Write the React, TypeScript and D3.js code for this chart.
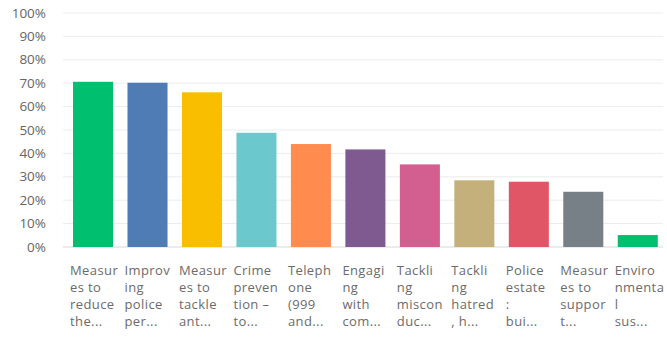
import React from "react";
import * as d3 from "d3";

const categories = [
  "Measures to reduce the...",
  "Improving police per...",
  "Measures to tackle ant...",
  "Crime prevention – to...",
  "Telephone (999 and...",
  "Engaging with com...",
  "Tackling misconduc...",
  "Tackling hatred, h...",
  "Police estate: bui...",
  "Measures to support t...",
  "Environmental sus...",
];
const labelLines = [
  ["Measur", "es to", "reduce", "the..."],
  ["Improv", "ing", "police", "per..."],
  ["Measur", "es to", "tackle", "ant..."],
  ["Crime", "preven", "tion –", "to..."],
  ["Teleph", "one", "(999", "and..."],
  ["Engagi", "ng", "with", "com..."],
  ["Tackli", "ng", "miscon", "duc..."],
  ["Tackli", "ng", "hatred", ", h..."],
  ["Police", "estate", ":", "bui..."],
  ["Measur", "es to", "suppor", "t..."],
  ["Enviro", "nmenta", "l", "sus..."],
];
const values = [70.6, 70.2, 66.1, 48.8, 44.0, 41.7, 35.3, 28.5, 27.9, 23.6, 5.1];
const colors = [
  "#00BF6F", "#507CB6", "#F9BE00", "#6BC8CD", "#FF8B4F", "#7F5A91",
  "#D25F90", "#C4B07B", "#E05666", "#768086", "#00BF6F",
];
const yTicks = [0, 10, 20, 30, 40, 50, 60, 70, 80, 90, 100];

export default function App() {
  const W = 667, H = 342;
  const x = d3.scaleBand<string>().domain(categories).range([65.8, 665]).paddingInner(0.265).paddingOuter(0.1325);
  const y = d3.scaleLinear().domain([0, 100]).range([247, 13]);
  const font = "'Open Sans', 'Noto Sans', sans-serif";
  return (
    <svg width={W} height={H} style={{ position: "absolute", left: 0, top: 0, background: "#fff" }}>
      {yTicks.map((t) => (
        <g key={t}>
          <line x1={63} x2={663} y1={y(t)} y2={y(t)} stroke={t === 0 ? "#d8d8d8" : "#ececec"} strokeWidth={1} />
          <text x={46} y={y(t) + 4.5} textAnchor="end" fontFamily={font} fontSize={13.5} fill="#666">{t}%</text>
        </g>
      ))}
      {categories.map((c, i) => (
        <rect key={c} x={x(c)} y={y(values[i])} width={x.bandwidth()} height={y(0) - y(values[i])} fill={colors[i]} />
      ))}
      {categories.map((c, i) => (
        <text key={c} fontFamily={font} fontSize={13} letterSpacing={0.4} fill="#6b6b6b">
          {labelLines[i].map((l, j) => (
            <tspan key={j} x={(x(c) as number) - 3} y={274.5 + j * 17}>{l}</tspan>
          ))}
        </text>
      ))}
    </svg>
  );
}
